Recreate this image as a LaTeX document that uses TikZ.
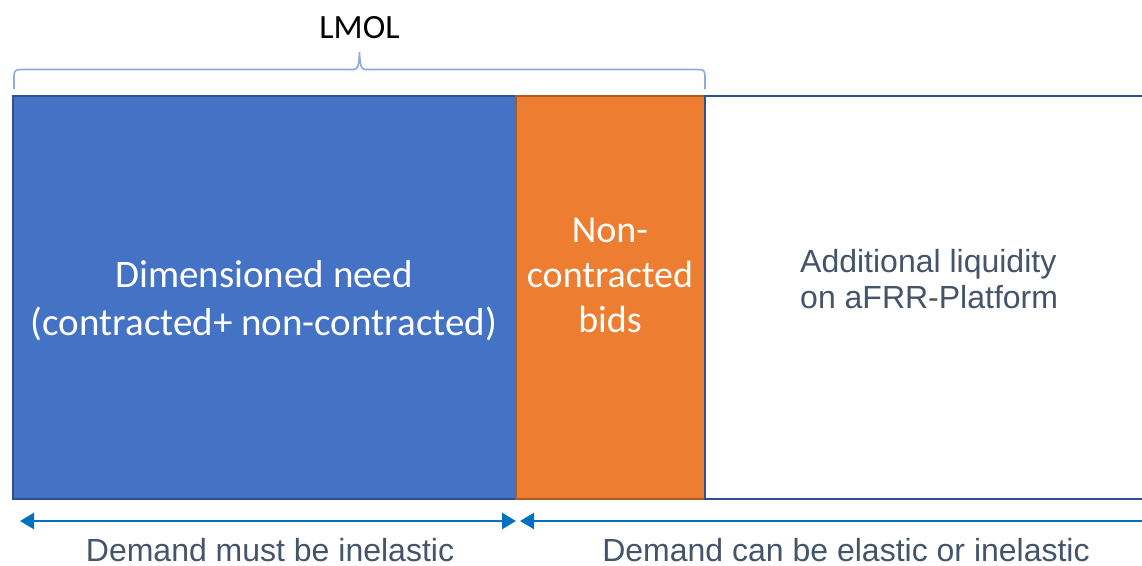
\documentclass[tikz,border=0pt]{standalone}
\usepackage{fontspec}
\setmainfont{Carlito}
\newfontfamily\arialfont{Liberation Sans}
\usetikzlibrary{arrows.meta,positioning}
\definecolor{needblue}{HTML}{4472C4}
\definecolor{needline}{HTML}{2F528F}
\definecolor{bidorange}{HTML}{ED7D31}
\definecolor{bidline}{HTML}{AE5A21}
\definecolor{bracecol}{HTML}{8FAADC}
\definecolor{arrowcol}{HTML}{0070C0}
\definecolor{slate}{HTML}{44546A}
\begin{document}
\begin{tikzpicture}[x=1pt,y=-1pt,
  bar/.style={draw,line width=2pt,inner sep=0pt,outer sep=0pt,minimum height=403pt},
  boxtext/.style={white,align=center,font=\fontsize{39}{48}\selectfont},
  greytext/.style={slate,inner sep=0pt,font=\arialfont\fontsize{32}{36}\selectfont},
  dimarrow/.style={arrowcol,line width=2.5pt},
  tip/.tip={Triangle[length=14pt,width=16pt]}]
\useasboundingbox (0,0) rectangle (1142,565);
\clip (0,0) rectangle (1142,565);
% the three bars
\node[bar,fill=needblue,draw=needline,minimum width=503pt] (need) at (264.5,297.5) {};
\node[bar,fill=bidorange,draw=bidline,minimum width=189pt,right=0pt of need] (bids) {};
\node[bar,fill=white,draw=needline,minimum width=460pt,right=0pt of bids] (extra) {};
\node[boxtext,anchor=base] (needtxt) at (264,335) {Dimensioned need\\(contracted+ non-contracted)};
\node[boxtext,anchor=base,font=\fontsize{38}{45}\selectfont] (bidtxt) at (610,332) {Non-\\contracted\\bids};
\node[greytext,anchor=base west,align=left] (extratxt) at (800,308) {Additional liquidity\\on aFRR-Platform};
% brace over LMOL part
\draw[bracecol,line width=1.6pt] (14,89) -- (14,76) .. controls (14,71) and (15.5,69.5) .. (21,69.5)
  -- (354,69.5) .. controls (357.5,69.5) and (359,66) .. (359.5,52)
  .. controls (360,66) and (361.5,69.5) .. (365,69.5) -- (698,69.5)
  .. controls (703.5,69.5) and (705,71) .. (705,76) -- (705,89);
\node[anchor=base,font=\fontsize{34}{40}\selectfont] (lmol) at (359.5,38) {LMOL};
% demand arrows
\coordinate (a1) at (20,521);
\coordinate (a2) at (516,521);
\coordinate (b1) at (520,521);
\coordinate (b2) at (1160,521);
\draw[dimarrow,tip-tip] (a1) -- (a2);
\draw[dimarrow,tip-] (b1) -- (b2);
\node[greytext,anchor=base] (inel) at (270,561) {Demand must be inelastic};
\node[greytext,anchor=base] (el) at (846,561) {Demand can be elastic or inelastic};
\end{tikzpicture}
\end{document}
